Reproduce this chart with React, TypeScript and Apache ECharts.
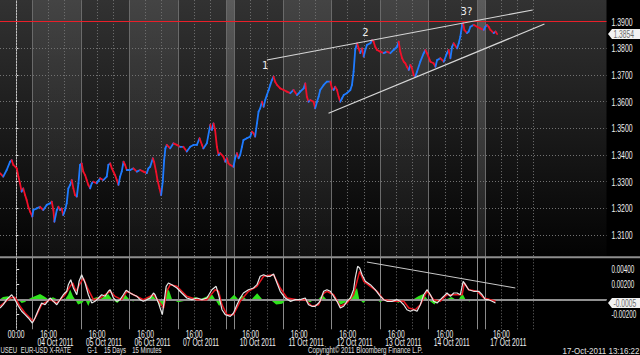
import React, { useEffect, useRef } from "react";
import * as echarts from "echarts";

const FONT = "'Liberation Sans',Arial,sans-serif";

// x = trading hours, 0 = 04 Oct 2011 00:00 (weekends compressed to 4 h)
const xRange = [-8, 292];
const priceRange = [1.3, 1.4];
const panelPriceTop = 1.3981;
const panelPriceBottom = 1.3018;
const indicatorRange = [-0.004, 0.0056];

const gridHours = [0, 8, 16, 24, 32, 40, 48, 56, 64, 72, 80, 88, 96, 104, 108, 116, 124, 132, 140, 148, 156, 164, 172, 180, 188, 196, 204, 212, 220, 228, 232, 240, 248, 256];
const separatorHours = [8, 32, 56, 80, 104, 108, 132, 156, 180, 204, 228, 232];
const lightBands = [[8, 32], [56, 80], [132, 156], [180, 204]];
const weekendBands = [[104, 108], [228, 232]];

const xTickLabels: [number, string, string][] = [
  [0, "00:00", ""],
  [16, "16:00", "04 Oct 2011"],
  [40, "16:00", "05 Oct 2011"],
  [64, "16:00", "06 Oct 2011"],
  [88, "16:00", "07 Oct 2011"],
  [116, "16:00", "10 Oct 2011"],
  [140, "16:00", "11 Oct 2011"],
  [164, "16:00", "12 Oct 2011"],
  [188, "16:00", "13 Oct 2011"],
  [212, "16:00", "14 Oct 2011"],
  [240, "16:00", "17 Oct 2011"],
];
const priceTickLabels = [1.31, 1.32, 1.33, 1.34, 1.35, 1.36, 1.37, 1.38, 1.39];
const indicatorTickLabels = [0.004, 0.002, -0.002];
const indicatorGridLevels = [0.004, 0.002, -0.002];

const footerLeft: [string, number][] = [
  ["USEU", 0.5],
  ["EUR-USD X-RATE", 20.7],
  ["G-1", 87.3],
  ["15 Days", 104],
  ["15 Minutes", 132.3],
  ["Copyright\u00a9 2011 Bloomberg Finance L.P.", 308],
];
const footerRight = "17-Oct-2011 13:16:22";

const resistanceLevel = 1.39;
const lastPrice = 1.3854;
const lastIndicator = -0.0005;
const upperTrend = [[124.0, 1.37564], [255.5, 1.39439]];
const lowerTrend = [[154.5, 1.35565], [261.3, 1.38914]];
const indicatorTrend = [[173.5, 0.00497], [246.9, 0.00151]];
const waveLabels: [string, number, number][] = [["1", 123.2, 1.3734], ["2", 172.7, 1.3858], ["3?", 222.7, 1.394]];

const priceSeries: [number, number][] = [
  [-8.0,1.3332],[-6.4,1.3319],[-4.7,1.3344],[-3.0,1.3375],[-2.2,1.3381],[-1.4,1.3363],[0.3,1.3350],[1.1,1.3319],[1.9,1.3294],[2.7,1.3263],[3.5,1.3275],[4.4,1.3250],[5.2,1.3231],[6.0,1.3206],[6.9,1.3188],[8.0,1.3169],[8.5,1.3194],[10.2,1.3200],[11.8,1.3206],[13.4,1.3194],[15.1,1.3213],[16.8,1.3219],[17.6,1.3225],[18.4,1.3194],[18.9,1.3150],[20.1,1.3194],[20.9,1.3206],[21.7,1.3194],[22.5,1.3200],[23.3,1.3175],[24.2,1.3194],[25.0,1.3219],[25.8,1.3275],[26.7,1.3288],[27.5,1.3306],[28.3,1.3275],[29.1,1.3250],[30.0,1.3244],[30.8,1.3294],[31.6,1.3363],[32.4,1.3369],[33.2,1.3338],[34.1,1.3325],[34.9,1.3306],[35.7,1.3288],[36.6,1.3275],[37.4,1.3294],[38.2,1.3300],[39.9,1.3294],[41.5,1.3313],[43.1,1.3306],[44.8,1.3319],[45.6,1.3363],[46.5,1.3369],[47.3,1.3350],[48.1,1.3338],[48.9,1.3325],[49.8,1.3306],[50.6,1.3288],[51.4,1.3319],[52.2,1.3338],[53.1,1.3375],[53.9,1.3363],[54.7,1.3344],[56.4,1.3344],[58.0,1.3350],[59.7,1.3338],[61.3,1.3344],[63.0,1.3338],[64.6,1.3332],[65.4,1.3350],[66.3,1.3356],[67.6,1.3388],[68.2,1.3375],[69.2,1.3338],[69.9,1.3306],[70.9,1.3275],[71.7,1.3250],[72.5,1.3300],[73.2,1.3381],[73.8,1.3425],[74.5,1.3438],[76.2,1.3425],[77.8,1.3444],[79.5,1.3438],[81.1,1.3431],[82.7,1.3431],[84.4,1.3413],[86.1,1.3431],[87.7,1.3438],[89.4,1.3438],[90.7,1.3463],[91.9,1.3438],[92.6,1.3425],[94.3,1.3444],[96.0,1.3513],[96.8,1.3494],[97.6,1.3519],[98.4,1.3494],[99.3,1.3431],[100.1,1.3400],[100.9,1.3407],[102.5,1.3394],[103.4,1.3375],[104.2,1.3388],[105.0,1.3369],[105.9,1.3363],[107.5,1.3356],[108.3,1.3388],[109.2,1.3407],[110.0,1.3388],[110.8,1.3400],[111.7,1.3431],[112.4,1.3456],[114.1,1.3463],[115.8,1.3469],[116.6,1.3488],[117.4,1.3482],[118.2,1.3469],[119.1,1.3519],[119.9,1.3563],[120.7,1.3575],[121.6,1.3600],[122.4,1.3581],[123.2,1.3606],[124.0,1.3625],[124.9,1.3644],[125.7,1.3663],[126.5,1.3681],[127.3,1.3694],[128.1,1.3675],[129.0,1.3663],[130.6,1.3650],[132.3,1.3644],[133.9,1.3638],[135.6,1.3632],[137.2,1.3644],[138.9,1.3625],[140.5,1.3638],[142.2,1.3650],[143.0,1.3669],[143.8,1.3619],[144.6,1.3600],[145.5,1.3606],[147.1,1.3600],[147.9,1.3575],[148.8,1.3600],[149.6,1.3619],[150.4,1.3644],[152.1,1.3663],[153.7,1.3675],[155.4,1.3675],[156.2,1.3650],[157.0,1.3644],[157.8,1.3656],[158.7,1.3644],[159.5,1.3619],[160.3,1.3600],[161.2,1.3613],[162.0,1.3625],[163.6,1.3632],[165.3,1.3644],[166.1,1.3663],[166.9,1.3713],[167.7,1.3794],[168.6,1.3819],[169.4,1.3800],[170.2,1.3782],[171.1,1.3800],[171.9,1.3769],[172.7,1.3794],[173.5,1.3813],[175.2,1.3819],[176.0,1.3831],[176.8,1.3825],[177.6,1.3806],[178.5,1.3794],[180.1,1.3788],[181.8,1.3782],[183.4,1.3788],[185.1,1.3782],[186.7,1.3794],[188.4,1.3806],[189.2,1.3825],[190.0,1.3788],[190.9,1.3763],[191.7,1.3750],[192.5,1.3744],[193.3,1.3731],[194.2,1.3719],[195.0,1.3738],[195.8,1.3725],[196.6,1.3700],[197.4,1.3694],[198.3,1.3713],[199.9,1.3750],[201.6,1.3782],[202.4,1.3794],[203.2,1.3782],[204.9,1.3750],[206.5,1.3744],[207.4,1.3731],[208.2,1.3756],[209.8,1.3763],[211.5,1.3750],[213.1,1.3782],[213.9,1.3794],[214.8,1.3763],[215.6,1.3806],[216.4,1.3819],[218.1,1.3800],[218.9,1.3819],[219.7,1.3844],[220.6,1.3888],[221.1,1.3894],[221.7,1.3869],[223.0,1.3857],[223.8,1.3863],[224.7,1.3881],[226.3,1.3888],[228.0,1.3881],[229.6,1.3875],[231.3,1.3869],[232.1,1.3881],[232.9,1.3888],[233.7,1.3881],[234.6,1.3869],[236.2,1.3857],[237.1,1.3863],[237.9,1.3854],
];

const macdLine: [number, number][] = [
  [-8.0,-0.00116],[-6.4,-0.00072],[-4.7,-0.00005],[-3.0,0.0004],[-2.2,0.00061],[-0.6,-0.00005],[1.1,-0.00093],[2.7,-0.0016],[4.4,-0.00205],[6.0,-0.00249],[8.0,-0.00316],[9.3,-0.00249],[11.0,-0.00139],[12.6,-0.00049],[14.3,-0.00072],[16.8,0.00017],[18.4,-0.00027],[20.1,-0.00072],[21.7,-0.00005],[23.3,0.00061],[25.0,0.00107],[25.8,0.00195],[27.0,0.00261],[28.3,0.00151],[30.0,0.00061],[31.1,0.0024],[32.4,0.00328],[34.1,0.00217],[35.7,0.00061],[37.4,-0.00049],[39.0,-0.00027],[40.7,0.00017],[42.3,0.00061],[44.0,0.0004],[45.6,0.00107],[46.5,0.00128],[48.1,0.00017],[49.8,-0.00027],[51.4,-0.00005],[53.0,0.00061],[54.4,0.0012],[56.4,0.00084],[58.0,0.00061],[59.7,0.0004],[61.3,-0.00005],[62.9,-0.00027],[64.6,-0.00005],[66.3,0.00017],[67.9,0.00084],[68.7,0.00061],[70.4,-0.00049],[71.2,-0.00116],[72.3,-0.00205],[73.2,-0.00027],[74.2,0.00173],[75.3,0.00217],[77.0,0.00195],[79.5,0.00151],[81.9,0.00084],[84.4,0.00017],[86.9,-0.00005],[89.4,0.00017],[91.9,-0.00005],[94.3,0.00017],[96.8,0.00128],[98.9,0.00173],[100.1,0.00061],[101.8,-0.00139],[103.4,-0.00205],[105.9,-0.00227],[107.5,-0.00183],[109.2,-0.00072],[110.8,0.00017],[112.4,0.00084],[114.9,0.00128],[117.4,0.00151],[119.1,0.00195],[120.7,0.00307],[122.4,0.00328],[124.0,0.00307],[125.7,0.00307],[127.3,0.00337],[129.0,0.00217],[130.6,0.00107],[133.1,0.00017],[135.6,-0.00027],[138.0,-0.00005],[140.5,-0.00005],[143.0,0.00017],[144.6,-0.00072],[146.3,-0.00093],[147.9,-0.00093],[149.6,-0.00049],[150.4,-0.0002],[152.1,0.00107],[153.7,0.00128],[155.4,0.00107],[157.0,0.0004],[158.7,-0.00027],[160.3,-0.00116],[162.0,-0.00093],[163.6,-0.00027],[165.3,0.00017],[166.9,0.00128],[167.7,0.00284],[168.9,0.0044],[169.9,0.00417],[171.1,0.00328],[172.7,0.0024],[175.2,0.00195],[177.6,0.00128],[180.1,0.0004],[181.8,-0.00005],[183.4,-0.00027],[185.9,-0.00027],[188.4,-0.00005],[190.0,-0.00027],[191.7,-0.00072],[193.3,-0.00139],[195.0,-0.0016],[196.6,-0.00139],[198.3,-0.0016],[199.9,-0.00072],[201.6,0.00061],[203.2,0.00128],[204.9,0.00061],[206.5,-0.00027],[208.2,-0.00049],[209.8,-0.00005],[211.5,0.0004],[213.1,0.00084],[214.8,0.0004],[216.4,0.00084],[218.1,0.00084],[219.7,0.00061],[221.1,0.0024],[222.2,0.00195],[223.8,0.00128],[226.3,0.00107],[228.8,0.00107],[230.5,0.00061],[232.1,-0.00005],[233.7,-0.00005],[235.4,-0.00027],[237.1,-0.00049],
];

const signalLine: [number, number][] = [
  [-8.0,-0.00093],[-3.0,0.00017],[-0.6,0.00027],[1.9,-0.00093],[4.4,-0.00183],[7.7,-0.00272],[8.5,-0.00293],[10.2,-0.00205],[12.6,-0.00072],[16.8,-0.00005],[20.1,-0.00049],[24.2,0.00061],[26.7,0.00173],[28.0,0.00217],[29.6,0.00107],[31.3,0.00195],[33.2,0.00284],[35.7,0.00128],[38.2,-0.00005],[41.5,0.00017],[46.5,0.00107],[48.9,0.0004],[52.2,-0.00005],[54.7,0.00107],[58.0,0.00061],[62.9,-0.00005],[67.9,0.00061],[71.2,-0.00049],[72.9,-0.00116],[74.5,0.00107],[76.2,0.00195],[79.5,0.00173],[84.4,0.0004],[89.4,-0.00005],[94.3,-0.00005],[98.4,0.00128],[100.1,0.00107],[101.8,-0.00072],[104.2,-0.00205],[107.5,-0.00205],[110.8,-0.00027],[114.9,0.00107],[119.1,0.00173],[122.4,0.00307],[127.3,0.00328],[130.6,0.00151],[134.0,0.00017],[138.9,-0.00005],[143.0,-0.00005],[146.3,-0.00093],[149.6,-0.00072],[152.1,0.0008],[153.7,0.00107],[157.0,0.00061],[160.3,-0.00093],[163.6,-0.00049],[166.9,0.00061],[168.6,0.0024],[169.9,0.00373],[171.9,0.0024],[175.2,0.00173],[178.5,0.00107],[181.8,-0.00005],[186.7,-0.00027],[191.7,-0.00027],[194.2,-0.00116],[197.4,-0.00139],[199.9,-0.00072],[203.2,0.00107],[206.5,-0.00005],[209.8,-0.00027],[213.1,0.00061],[216.4,0.00061],[220.6,0.00061],[221.7,0.00217],[223.8,0.00128],[228.0,0.00107],[231.3,0.00017],[234.6,-0.00005],[237.1,-0.00027],
];

const histogram: [number, number][] = [
  [-8.0,0],[-6.5,0.0003],[-4.0,0.0004],[-2.1,0],[0.9,0],[2.7,-0.0005],[4.4,-0.00036],[5.9,0],[8.3,0.0003],[11.8,0.0007],[14.3,0.0003],[15.8,0],[18.2,0.00027],[20.2,0],[22.2,-0.0002],[24.2,0],[25.7,0.0006],[26.7,0.0013],[28.1,0.0004],[29.1,0],[30.6,-0.0007],[32.6,-0.0005],[34.1,0],[35.7,-0.0009],[37.0,0],[40.0,0.0003],[41.5,0],[45.5,0.0007],[47.4,0],[50.0,-0.0005],[52.0,0],[54.0,0.0006],[55.9,0],[57.8,-0.0003],[60.3,0],[64.0,0],[67.2,0.0006],[69.2,0],[71.2,-0.0009],[72.7,-0.0007],[73.7,0],[74.5,0.0015],[75.7,0.0011],[77.1,0],[80.1,-0.0004],[83.6,-0.0002],[86.1,0],[88.5,0.0003],[91.0,0],[94.5,0.0004],[97.0,0.0006],[98.4,0],[100.4,-0.0009],[102.4,0],[105.5,0],[107.8,0.0006],[109.8,0],[111.8,0.0005],[113.8,0],[116.5,0],[119.2,0.0008],[121.7,0],[125.5,0],[128.6,-0.0007],[131.6,-0.0006],[133.6,0],[138.0,-0.0002],[140.5,0],[145.5,-0.0004],[147.4,0],[149.5,0],[151.4,0.0006],[153.4,0],[157.5,0],[160.3,-0.0007],[162.3,-0.0005],[164.3,0],[166.3,0.0006],[168.6,0.0015],[169.7,0],[171.7,-0.0005],[173.7,0],[178.0,0],[180.1,-0.0004],[182.1,0],[186.5,0],[189.0,-0.0005],[191.5,0],[196.5,0],[198.9,0.0004],[201.4,0.0007],[203.4,0],[206.9,-0.0007],[208.8,0],[213.0,0],[215.3,0.0003],[217.2,0],[219.0,0],[220.7,0.0008],[222.2,0],[224.2,-0.0003],[225.7,0],[228.5,0],[230.6,-0.0002],[234.6,0],[237.1,-0.0002],
];

const UP = "#1f7bff";
const DOWN = "#f0102a";

export default function App() {
  const ref = useRef<HTMLDivElement>(null);
  useEffect(() => {
    const chart = echarts.init(ref.current!, null, { renderer: "svg" });
    const grad = (a: string, b: string) =>
      new echarts.graphic.LinearGradient(0, 0, 0, 1, [
        { offset: 0, color: a },
        { offset: 1, color: b },
      ]);
    const dottedHours = gridHours.filter((h) => !separatorHours.includes(h));
    const none = ["none", "none"];

    const option: any = {
      animation: false,
      backgroundColor: "#000",
      textStyle: { fontFamily: FONT },
      grid: [
        { left: 0, top: -4.97, width: 606.5, height: 266.7, containLabel: false, outerBoundsMode: "none" },
        { left: 0, top: 257.3, width: 606.5, height: 72, containLabel: false, outerBoundsMode: "none" },
      ],
      xAxis: [
        { gridIndex: 0, type: "value", min: xRange[0], max: xRange[1], show: false },
        {
          gridIndex: 1,
          type: "value",
          min: xRange[0],
          max: xRange[1],
          splitLine: { show: false },
          axisLine: { show: true, lineStyle: { color: "#c4c4c4", width: 1 } },
          axisTick: { show: true, customValues: separatorHours, length: 16, lineStyle: { color: "#a8a8a8" } },
          axisLabel: { show: false },
        },
      ],
      yAxis: [
        {
          gridIndex: 0,
          type: "value",
          position: "right",
          min: priceRange[0],
          max: priceRange[1],
          interval: 0.01,
          splitLine: { show: false },
          axisLine: { show: true, lineStyle: { color: "#c4c4c4" } },
          axisTick: { show: true, length: 3, customValues: priceTickLabels, lineStyle: { color: "#e0e0e0" } },
          axisLabel: { show: false },
        },
        {
          gridIndex: 1,
          type: "value",
          position: "right",
          min: indicatorRange[0],
          max: indicatorRange[1],
          interval: 0.002,
          splitLine: { show: false },
          axisLine: { show: true, lineStyle: { color: "#c4c4c4" } },
          axisTick: { show: true, length: 3, customValues: indicatorTickLabels, lineStyle: { color: "#e0e0e0" } },
          axisLabel: { show: false },
        },
      ],
      series: [
        {
          type: "line",
          xAxisIndex: 0,
          yAxisIndex: 0,
          data: [],
          silent: true,
          markArea: {
            z: 0,
            silent: true,
            label: { show: false },
            data: [
              [
                { xAxis: xRange[0], yAxis: panelPriceTop, itemStyle: { color: grad("#323232", "#030303") } },
                { xAxis: xRange[1], yAxis: panelPriceBottom },
              ],
              ...lightBands.map((b) => [
                { xAxis: b[0], yAxis: panelPriceTop, itemStyle: { color: grad("rgba(255,255,255,0.09)", "rgba(255,255,255,0.05)") } },
                { xAxis: b[1], yAxis: panelPriceBottom },
              ]),
              ...weekendBands.map((b) => [
                { xAxis: b[0], yAxis: panelPriceTop, itemStyle: { color: grad("rgba(255,255,255,0.2)", "rgba(255,255,255,0.1)") } },
                { xAxis: b[1], yAxis: panelPriceBottom },
              ]),
            ],
          },
          markLine: {
            z: 1,
            silent: true,
            symbol: none,
            label: { show: false },
            data: [
              ...dottedHours.map((h) => [
                { coord: [h, panelPriceTop], lineStyle: { color: "#727272", width: 1, type: [1, 2] } },
                { coord: [h, panelPriceBottom] },
              ]),
              ...separatorHours.map((h) => [
                { coord: [h, panelPriceTop], lineStyle: { color: "#6a6a6a", width: 1, type: "solid" } },
                { coord: [h, panelPriceBottom] },
              ]),
              ...priceTickLabels.slice(0, -1).map((p) => ({ yAxis: p, lineStyle: { color: "#727272", width: 1, type: [1, 2] } })),
              { yAxis: resistanceLevel, lineStyle: { color: "#e8202a", width: 1.2, type: "solid" } },
            ],
          },
        },
        {
          type: "custom",
          xAxisIndex: 0,
          yAxisIndex: 0,
          z: 3,
          clip: true,
          encode: { x: 0, y: 1 },
          data: priceSeries,
          renderItem: (params: any, api: any) => {
            const i = params.dataIndex;
            if (i === 0) return null;
            const prev = priceSeries[i - 1];
            const cur = priceSeries[i];
            const a = api.coord(prev);
            const b = api.coord(cur);
            return {
              type: "line",
              shape: { x1: a[0], y1: a[1], x2: b[0], y2: b[1] },
              style: { stroke: cur[1] >= prev[1] ? UP : DOWN, lineWidth: 1.8, lineCap: "round" },
            };
          },
        },
        {
          type: "line",
          xAxisIndex: 0,
          yAxisIndex: 0,
          data: [],
          silent: true,
          markLine: {
            z: 6,
            silent: true,
            symbol: none,
            label: { show: false },
            data: [
              [{ coord: upperTrend[0], lineStyle: { color: "#d6d6d6", width: 1.2, type: "solid" } }, { coord: upperTrend[1] }],
              [{ coord: lowerTrend[0], lineStyle: { color: "#d6d6d6", width: 1.2, type: "solid" } }, { coord: lowerTrend[1] }],
            ],
          },
          markPoint: {
            z: 6,
            silent: true,
            symbol: "circle",
            symbolSize: 0,
            itemStyle: { color: "rgba(0,0,0,0)" },
            label: { show: true, position: "inside", color: "#eeeeee", fontSize: 10, fontFamily: "'DejaVu Sans',sans-serif", formatter: (p: any) => p.name },
            data: waveLabels.map((w) => ({ name: w[0], coord: [w[1], w[2]] })),
          },
        },
        {
          type: "line",
          xAxisIndex: 1,
          yAxisIndex: 1,
          data: [],
          silent: true,
          markLine: {
            z: 1,
            silent: true,
            symbol: none,
            label: { show: false },
            data: [
              ...dottedHours.map((h) => ({ xAxis: h, lineStyle: { color: "#6a6a6a", width: 1, type: [1, 2] } })),
              ...separatorHours.map((h) => ({ xAxis: h, lineStyle: { color: "#8a8a8a", width: 1, type: "solid" } })),
              ...indicatorGridLevels.map((v) => ({ yAxis: v, lineStyle: { color: "#6a6a6a", width: 1, type: [1, 2] } })),
            ],
          },
        },
        {
          type: "line",
          name: "histogram",
          xAxisIndex: 1,
          yAxisIndex: 1,
          z: 2,
          data: histogram,
          showSymbol: false,
          symbol: "none",
          lineStyle: { width: 0 },
          areaStyle: { color: "#2fe31c", opacity: 1 },
        },
        {
          type: "line",
          xAxisIndex: 1,
          yAxisIndex: 1,
          data: [],
          silent: true,
          markLine: {
            z: 3,
            silent: true,
            symbol: none,
            label: { show: false },
            data: [{ yAxis: 0, lineStyle: { color: "#909090", width: 2, type: "solid" } }],
          },
        },
        {
          type: "line",
          name: "signal",
          xAxisIndex: 1,
          yAxisIndex: 1,
          z: 4,
          data: signalLine,
          symbol: "none",
          lineStyle: { color: "#e8141e", width: 1.5 },
        },
        {
          type: "line",
          name: "macd",
          xAxisIndex: 1,
          yAxisIndex: 1,
          z: 5,
          data: macdLine,
          symbol: "none",
          lineStyle: { color: "#e6e6e6", width: 1.2 },
        },
        {
          type: "line",
          xAxisIndex: 1,
          yAxisIndex: 1,
          data: [],
          silent: true,
          markLine: {
            z: 6,
            silent: true,
            symbol: none,
            label: { show: false },
            data: [
              [{ coord: indicatorTrend[0], lineStyle: { color: "#c8c8c8", width: 1, type: "solid" } }, { coord: indicatorTrend[1] }],
            ],
          },
        },
      ],
    };
    chart.setOption(option);

    // texts in a condensed (scaled) face, positioned through the axes' own scales
    const X = (t: number) => chart.convertToPixel({ xAxisIndex: 1 }, t) as unknown as number;
    const Y0 = (v: number) => chart.convertToPixel({ yAxisIndex: 0 }, v) as unknown as number;
    const Y1 = (v: number) => chart.convertToPixel({ yAxisIndex: 1 }, v) as unknown as number;
    const axisX = X(xRange[1]);
    const axisBottom = Y1(indicatorRange[0]);
    const txt = (text: string, x: number, y: number, o: any = {}) => ({
      type: "text",
      z: 30,
      x,
      y,
      scaleX: o.scaleX ?? 0.66,
      silent: true,
      style: {
        text,
        fill: o.fill ?? "#f0f0f0",
        fontSize: o.fontSize ?? 10.5,
        fontFamily: FONT,
        align: o.align ?? "left",
        verticalAlign: "middle",
      },
    });
    const valueBox = (text: string, y: number) => [
      {
        type: "polygon",
        z: 29,
        silent: true,
        shape: { points: [[axisX + 1.5, y], [axisX + 5.5, y - 5], [640, y - 5], [640, y + 5], [axisX + 5.5, y + 5]] },
        style: { fill: "#f2f2f2" },
      },
      txt(text, axisX + 7, y + 0.5, { fill: "#6c6c6c", scaleX: 0.64 }),
    ];

    const graphics: any[] = [
      { type: "rect", z: 20, silent: true, shape: { x: 0, y: 256.3, width: 640, height: 2 }, style: { fill: "#8e8e8e" } },
      ...priceTickLabels.map((p) => txt(p.toFixed(4), axisX + 5, Y0(p) + 0.5)),
      ...indicatorTickLabels.map((v) => txt(v.toFixed(5), axisX + 5, Y1(v) + 0.5, { scaleX: 0.6 })),
      ...valueBox(lastPrice.toFixed(4), Y0(lastPrice)),
      ...valueBox(lastIndicator.toFixed(4), Y1(lastIndicator)),
      ...xTickLabels.map((d) => txt(d[1], X(d[0]), axisBottom + 5, { align: "center", scaleX: 0.64 })),
      ...xTickLabels.filter((d) => d[2]).map((d) => txt(d[2], X(d[0]) + 7, axisBottom + 13, { align: "center", scaleX: 0.64 })),
      ...footerLeft.map(([t, x]) =>
        txt(t, x, 350.5, { fontSize: 9.5, scaleX: t.startsWith("Copyright") ? 0.66 : 0.63, fill: "#e0e0e0" })
      ),
      txt(footerRight, 639.5, 350.5, { fontSize: 9.5, scaleX: 0.84, align: "right", fill: "#e0e0e0" }),
    ];
    chart.setOption({ graphic: graphics });
    return () => chart.dispose();
  }, []);
  return <div ref={ref} style={{ position: "fixed", left: 0, top: 0, width: 640, height: 355 }} />;
}
